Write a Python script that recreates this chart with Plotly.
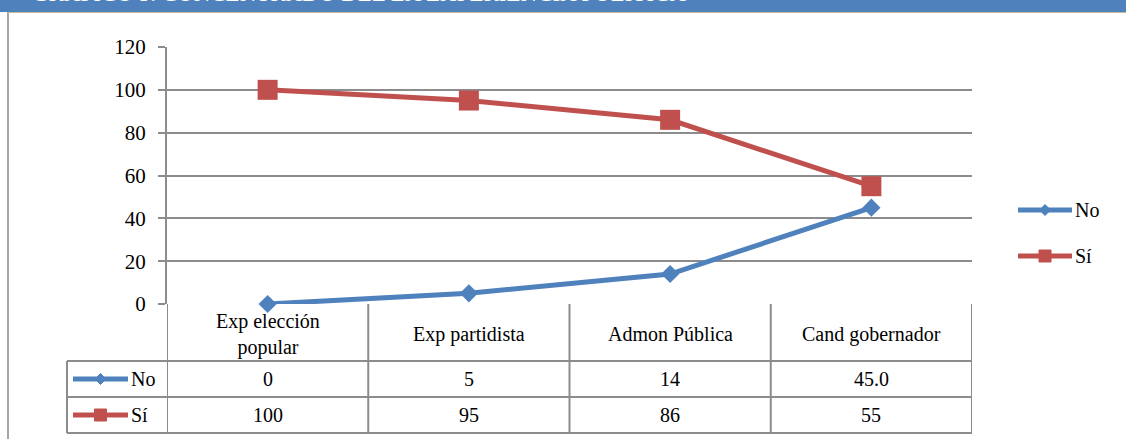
import plotly.graph_objects as go

categories = ["Exp elección<br>popular", "Exp partidista", "Admon Pública", "Cand gobernador"]
series_names = ["No", "Sí"]
no_values = [0, 5, 14, 45.0]
si_values = [100, 95, 86, 55]
no_labels = ["0", "5", "14", "45.0"]
si_labels = ["100", "95", "86", "55"]
y_ticks = [0, 20, 40, 60, 80, 100, 120]

BLUE = "#4F81BD"
RED = "#C0504D"
GRID = "#8c8c8c"
FONT = "Liberation Serif"
W_FIG, H_FIG = 1126, 439
L, R, T, B = 167, 972, 47, 304
PW, PH = R - L, B - T

def px(x):
    return (x - L) / PW

def py(y):
    return (B - y) / PH

fig = go.Figure()
x_idx = list(range(len(categories)))
fig.add_trace(go.Scatter(x=x_idx, y=no_values, mode="lines+markers", name=series_names[0],
                         line=dict(color=BLUE, width=5),
                         marker=dict(symbol="diamond", size=14, color=BLUE), cliponaxis=False))
fig.add_trace(go.Scatter(x=x_idx, y=si_values, mode="lines+markers", name=series_names[1],
                         line=dict(color=RED, width=5),
                         marker=dict(symbol="square", size=20, color=RED), cliponaxis=False))

shapes = []
annotations = []

# Title banner (clipped at top of page)
shapes.append(dict(type="rect", xref="paper", yref="paper", x0=px(-5), x1=px(W_FIG + 30), y0=py(12), y1=py(-5),
                   fillcolor=BLUE, line=dict(width=0), layer="above"))
annotations.append(dict(text="GRÁFICO 5. CONCENTRADO DEL LA EXPERIENCIA POLÍTICA", xref="paper", yref="paper",
                        x=px(30), y=py(8), xanchor="left", yanchor="bottom", showarrow=False,
                        font=dict(family=FONT, size=23, color="white")))
# left frame line
shapes.append(dict(type="line", xref="paper", yref="paper", x0=px(8), x1=px(8), y0=py(12), y1=py(445),
                   line=dict(color="#a6a6a6", width=2)))
shapes.append(dict(type="line", xref="paper", yref="paper", x0=px(8), x1=px(W_FIG + 30), y0=py(12.5), y1=py(12.5),
                   line=dict(color="#c8b89a", width=1)))

# Data table
row_lines = [361, 397, 433]
for yy in row_lines:
    shapes.append(dict(type="line", xref="paper", yref="paper", x0=px(67), x1=1, y0=py(yy), y1=py(yy),
                       line=dict(color=GRID, width=2)))
shapes.append(dict(type="line", xref="paper", yref="paper", x0=px(67), x1=px(67), y0=py(361), y1=py(433),
                   line=dict(color=GRID, width=2)))
for i in range(len(categories) + 1):
    shapes.append(dict(type="line", xref="x", yref="paper", x0=i - 0.5, x1=i - 0.5, y0=0, y1=py(433),
                       line=dict(color=GRID, width=2)))

TF = dict(family=FONT, size=20, color="black")
for i, cat in enumerate(categories):
    annotations.append(dict(text=cat, xref="x", yref="paper", x=i, y=py(334), showarrow=False,
                            font=TF, yanchor="middle"))
    annotations.append(dict(text=no_labels[i], xref="x", yref="paper", x=i, y=py(379), showarrow=False,
                            font=TF, yanchor="middle"))
    annotations.append(dict(text=si_labels[i], xref="x", yref="paper", x=i, y=py(415), showarrow=False,
                            font=TF, yanchor="middle"))

def legend_key(x0, x1, ycen, color, symbol, label):
    shapes.append(dict(type="line", xref="paper", yref="paper", x0=px(x0), x1=px(x1), y0=py(ycen), y1=py(ycen),
                       line=dict(color=color, width=5)))
    cx = (x0 + x1) / 2
    if symbol == "diamond":
        d = 5.5
        path = (f"M {px(cx - d)} {py(ycen)} L {px(cx)} {py(ycen - d)} "
                f"L {px(cx + d)} {py(ycen)} L {px(cx)} {py(ycen + d)} Z")
        shapes.append(dict(type="path", xref="paper", yref="paper", path=path, fillcolor=color,
                           line=dict(color=color, width=1)))
    else:
        d = 6
        shapes.append(dict(type="rect", xref="paper", yref="paper", x0=px(cx - d), x1=px(cx + d),
                           y0=py(ycen + d), y1=py(ycen - d), fillcolor=color, line=dict(color=color, width=1)))
    annotations.append(dict(text=label, xref="paper", yref="paper", x=px(x1 + 1), y=py(ycen), xanchor="left",
                            yanchor="middle", showarrow=False, font=TF))

legend_key(73, 128, 379, BLUE, "diamond", series_names[0])
legend_key(73, 128, 415, RED, "square", series_names[1])
legend_key(1018, 1072, 210, BLUE, "diamond", series_names[0])
legend_key(1018, 1072, 256, RED, "square", series_names[1])

fig.update_layout(
    width=W_FIG, height=H_FIG,
    margin=dict(l=L, r=W_FIG - R, t=T, b=H_FIG - B, pad=0),
    paper_bgcolor="white", plot_bgcolor="white",
    showlegend=False,
    shapes=shapes, annotations=annotations,
    font=dict(family=FONT, size=20, color="black"),
    xaxis=dict(range=[-0.5, len(categories) - 0.5], showticklabels=False, showgrid=False, zeroline=False,
               showline=False, fixedrange=True),
    yaxis=dict(range=[0, 120], tickvals=y_ticks, showgrid=True, gridcolor=GRID, gridwidth=1.5,
               zeroline=False, showline=True, linecolor=GRID, linewidth=2, ticks="outside", ticklen=7,
               tickcolor=GRID, tickwidth=1.5, ticklabelstandoff=8,
               tickfont=dict(family=FONT, size=21, color="black"), fixedrange=True),
)

fig.write_html("out.html", config={"displayModeBar": False},
               post_script="document.body.style.margin='0';document.body.style.overflow='hidden';"
                           "document.documentElement.style.overflow='hidden';")
